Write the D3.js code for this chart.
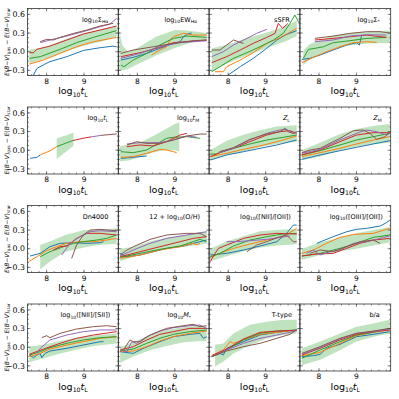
<!DOCTYPE html>
<html>
<head>
<meta charset="utf-8">
<script src="https://cdn.jsdelivr.net/npm/d3@7"></script>
<style>
  body { margin: 0; background: #fff; }
  svg { display: block; font-family: "DejaVu Sans", sans-serif; }
</style>
</head>
<body>
<svg width="399" height="399"></svg>
<script>
// colours of the six bins (blue, orange, green, red, purple, brown)
var binColors = ["#1f77b4", "#ff7f0e", "#2ca02c", "#d62728", "#9467bd", "#8c564b"];

var xDomain = [7.49, 9.915];
var yDomain = [-0.383, 0.695];
var xTicks = [8, 9];
var yTicks = [-0.3, 0.0, 0.3, 0.6];

// panel titles: _{..} = subscript, ~..~ = italic
var panelLabels = [
  "log_{10}Σ_{Hα}", "log_{10}EW_{Hα}", "sSFR", "log_{10}Σ_{*}",
  "log_{10}~t~_{L}", "log_{10}~t~_{M}", "~Z~_{L}", "~Z~_{M}",
  "Dn4000", "12 + log_{10}(O/H)", "log_{10}([NII]/[OII])", "log_{10}([OIII]/[OII])",
  "log_{10}([NII]/[SII])", "log_{10}~M~_{*}", "T-type", "b/a"
];

// each panel: six lines of [log10 tL, value] and a band of [log10 tL, low, high]
var sigmaHaLines = [
  [[7.65,-0.375],[7.74,-0.27],[7.92,-0.21],[8.09,-0.16],[8.54,-0.08],[8.98,0.02],[9.43,0.064],[9.78,0.09],[9.87,0.08]],
  [[7.54,-0.2],[7.92,-0.134],[8.36,-0.027],[8.8,0.08],[9.25,0.16],[9.87,0.23]],
  [[7.54,-0.107],[7.83,-0.08],[8.36,0.038],[8.8,0.145],[9.25,0.23],[9.87,0.34]],
  [[7.54,-0.016],[7.65,-0.016],[7.74,0.038],[8.09,0.091],[8.54,0.188],[8.98,0.284],[9.43,0.348],[9.87,0.413]],
  [[7.83,0.145],[8.09,0.188],[8.54,0.252],[8.98,0.322],[9.43,0.402],[9.69,0.445],[9.87,0.536]],
  [[7.83,0.161],[8.0,0.198],[8.18,0.188],[8.36,0.23],[8.72,0.295],[9.07,0.348],[9.43,0.413],[9.78,0.456]]
];
var sigmaHaBand = [[7.54,-0.19,0.03],[8.0,-0.11,0.08],[8.5,0.0,0.2],[9.0,0.1,0.3],[9.5,0.17,0.37],[9.87,0.24,0.4]];

var ewHaLines = [
  [[7.56,-0.134],[7.89,-0.091],[8.25,-0.027],[8.6,0.054],[8.96,0.134],[9.14,0.16],[9.23,0.24],[9.36,0.29],[9.45,0.3]],
  [[8.38,-0.054],[8.6,0.027],[8.78,0.08],[8.87,0.188],[8.96,0.241],[9.23,0.295],[9.49,0.268],[9.85,0.268]],
  [[7.56,-0.214],[7.64,-0.241],[7.89,-0.134],[8.25,-0.027],[8.6,0.107],[8.96,0.214],[9.32,0.252],[9.85,0.23]],
  [[7.56,-0.08],[8.07,-0.016],[8.6,0.07],[8.96,0.145],[9.32,0.161],[9.85,0.188]],
  [[7.56,-0.107],[8.07,-0.027],[8.6,0.08],[9.14,0.145],[9.85,0.177]],
  [[7.56,-0.027],[7.89,0.027],[8.43,0.08],[8.96,0.134],[9.49,0.177],[9.85,0.188]]
];
var ewHaBand = [[7.52,-0.3,0.33],[7.6,-0.3,0.1],[7.75,-0.28,0.0],[8.0,-0.2,0.06],[8.5,-0.06,0.24],[9.0,0.06,0.35],[9.3,0.12,0.34],[9.6,0.17,0.32],[9.85,0.17,0.3]];

var ssfrLines = [
  [[8.0,-0.375],[8.32,-0.241],[8.67,-0.107],[9.03,0.054],[9.3,0.188],[9.56,0.279],[9.83,0.338]],
  [[7.65,-0.322],[7.87,-0.322],[7.96,-0.241],[8.32,-0.134],[8.67,-0.016],[9.03,0.134],[9.38,0.225],[9.83,0.375]],
  [[7.56,-0.322],[7.78,-0.241],[8.14,-0.107],[8.5,-0.016],[8.85,0.08],[9.21,0.188],[9.47,0.295],[9.65,0.456],[9.78,0.59],[9.9,0.456]],
  [[7.56,-0.177],[7.96,-0.08],[8.32,0.027],[8.67,0.134],[9.03,0.23],[9.25,0.295],[9.34,0.456],[9.45,0.375],[9.6,0.456]],
  [[7.56,-0.08],[7.87,0.0],[8.14,0.107],[8.5,0.214],[8.76,0.295],[9.03,0.359]],
  [[7.56,0.027],[7.78,0.027],[7.96,0.107],[8.14,0.188],[8.27,0.161],[8.41,0.134]]
];
var ssfrBand = [[7.56,-0.32,0.05],[8.0,-0.18,0.12],[8.5,-0.06,0.22],[9.0,0.05,0.3],[9.5,0.16,0.4],[9.83,0.25,0.5]];

var sigmaStarLines = [
  [[7.54,-0.123],[7.76,-0.107],[8.03,-0.054],[8.38,0.027],[8.74,0.107],[9.0,0.145],[9.08,0.107],[9.14,0.268]],
  [[7.54,-0.177],[7.85,-0.091],[8.2,0.0],[8.56,0.08],[8.92,0.145],[9.27,0.161],[9.54,0.15]],
  [[7.58,-0.107],[7.72,0.038],[7.89,0.054],[8.12,0.08],[8.38,0.145],[8.83,0.177],[9.27,0.214],[9.8,0.23]],
  [[7.89,0.188],[8.38,0.214],[8.83,0.241],[9.27,0.268],[9.8,0.23]],
  [[7.89,0.161],[8.38,0.188],[8.83,0.252],[9.27,0.273],[9.8,0.268]],
  [[7.89,0.214],[8.38,0.252],[8.83,0.295],[9.27,0.322],[9.63,0.322],[9.89,0.3]]
];
var sigmaStarBand = [[7.58,-0.22,0.02],[7.75,-0.12,0.12],[8.0,-0.05,0.18],[8.4,0.05,0.26],[8.8,0.1,0.3],[9.3,0.13,0.32],[9.89,0.14,0.34]];

var tLLines = [
  [[7.56,-0.131],[7.74,-0.115],[7.83,-0.077]],
  [[7.83,-0.077],[8.09,-0.01],[8.27,0.057]],
  [[8.27,0.057],[8.5,0.11],[8.7,0.155]],
  [[8.7,0.155],[9.0,0.195],[9.2,0.215]],
  [[9.2,0.215],[9.45,0.238]],
  [[9.45,0.238],[9.87,0.262]]
];
var tLBand = [[8.27,-0.14,0.19],[8.72,0.07,0.28]];

var tMLines = [
  [[7.56,-0.131],[7.89,-0.115],[8.25,-0.093]],
  [[7.56,-0.115],[7.89,-0.104],[8.25,-0.05],[8.6,0.014],[8.78,0.003],[8.96,-0.024],[9.05,-0.04]],
  [[7.56,-0.024],[7.89,-0.04],[8.25,0.003],[8.52,0.1],[8.78,0.191],[8.96,0.207],[9.32,0.218],[9.67,0.191]],
  [[7.72,0.057],[8.07,0.084],[8.43,0.068],[8.78,0.137],[9.14,0.244],[9.32,0.271]],
  [[7.72,0.1],[8.07,0.121],[8.6,0.121],[8.96,0.164],[9.32,0.228],[9.58,0.21]],
  [[7.72,0.084],[7.98,0.137],[8.25,0.11],[8.6,0.11],[8.96,0.164],[9.32,0.228],[9.67,0.26],[9.85,0.26]]
];
var tMBand = [[7.52,-0.18,0.06],[7.8,-0.16,0.1],[8.1,-0.1,0.13],[8.4,-0.04,0.22],[8.7,0.0,0.32],[9.0,0.0,0.42],[9.12,-0.02,0.45]];

var zLLines = [
  [[7.52,-0.158],[7.96,-0.077],[8.41,-0.024],[8.85,0.03],[9.3,0.084],[9.83,0.164]],
  [[7.52,-0.104],[7.96,-0.05],[8.41,0.014],[8.85,0.068],[9.3,0.137],[9.83,0.228]],
  [[7.52,-0.061],[7.7,-0.061],[7.78,-0.024],[8.14,0.03],[8.58,0.1],[9.03,0.164],[9.47,0.207],[9.83,0.244]],
  [[7.52,-0.104],[7.78,-0.04],[8.14,0.03],[8.58,0.137],[9.03,0.244],[9.38,0.298],[9.65,0.314],[9.83,0.271]],
  [[7.78,-0.04],[8.14,0.03],[8.58,0.164],[9.03,0.271],[9.38,0.325],[9.56,0.335],[9.74,0.271],[9.83,0.282]],
  [[7.78,-0.024],[8.14,0.041],[8.58,0.175],[9.03,0.26],[9.38,0.298],[9.52,0.352],[9.6,0.298],[9.74,0.271],[9.83,0.298]]
];
var zLBand = [[7.52,-0.16,0.0],[7.96,-0.08,0.15],[8.41,-0.02,0.25],[8.85,0.05,0.32],[9.3,0.1,0.38],[9.83,0.14,0.4]];

var zMLines = [
  [[7.54,-0.147],[8.03,-0.077],[8.56,-0.008],[9.0,0.046],[9.45,0.1],[9.89,0.153]],
  [[7.54,-0.104],[8.03,-0.04],[8.56,0.03],[9.0,0.1],[9.45,0.164],[9.89,0.218]],
  [[7.54,-0.077],[8.03,-0.008],[8.56,0.084],[9.0,0.164],[9.45,0.218],[9.89,0.271]],
  [[7.54,-0.077],[8.03,0.003],[8.56,0.137],[9.0,0.244],[9.45,0.282],[9.89,0.282]],
  [[7.54,-0.05],[8.03,0.014],[8.56,0.164],[9.0,0.271],[9.27,0.325],[9.54,0.298],[9.8,0.244],[9.89,0.271]],
  [[7.54,-0.04],[7.76,0.003],[8.03,0.03],[8.56,0.191],[8.92,0.314],[9.18,0.325],[9.36,0.271],[9.54,0.175],[9.76,0.218],[9.89,0.282]]
];
var zMBand = [[7.54,-0.16,0.0],[8.03,-0.1,0.12],[8.56,0.0,0.26],[9.0,0.06,0.34],[9.45,0.1,0.39],[9.89,0.12,0.42]];

var dn4000Lines = [
  [[7.56,-0.118],[7.83,-0.075],[8.09,0.032],[8.36,0.086],[8.72,0.096],[9.07,0.086],[9.43,0.096],[9.52,0.113]],
  [[7.52,-0.209],[7.74,-0.129],[8.0,-0.032],[8.27,0.032],[8.54,0.086],[8.89,0.113],[9.25,0.113],[9.6,0.139],[9.87,0.166]],
  [[7.83,-0.129],[8.09,-0.048],[8.45,0.032],[8.72,0.086],[8.98,0.113],[9.34,0.139],[9.6,0.166],[9.87,0.22]],
  [[8.18,-0.021],[8.36,0.032],[8.54,0.043],[8.8,0.166],[9.07,0.247],[9.43,0.247],[9.87,0.22]],
  [[8.4,-0.102],[8.63,0.086],[8.89,0.193],[9.16,0.273],[9.43,0.289],[9.87,0.273]],
  [[8.67,-0.155],[8.8,0.059],[8.98,0.22],[9.16,0.3],[9.43,0.311],[9.87,0.289]]
];
var dn4000Band = [[7.83,-0.33,0.06],[8.1,-0.2,0.12],[8.5,-0.05,0.22],[9.0,0.02,0.3],[9.4,0.06,0.3],[9.87,0.08,0.33]];

var ohLines = [
  [[7.54,-0.075],[7.72,-0.129],[8.07,-0.102],[8.43,-0.048],[8.78,0.005],[9.23,0.043],[9.67,0.113],[9.85,0.139]],
  [[7.54,-0.155],[8.07,-0.102],[8.6,-0.021],[9.14,0.032],[9.49,0.086],[9.58,0.059],[9.67,0.086]],
  [[7.54,-0.139],[8.07,-0.075],[8.6,-0.011],[9.14,0.043],[9.49,0.113],[9.67,0.15],[9.85,0.113]],
  [[7.54,-0.129],[8.07,-0.048],[8.6,0.032],[9.14,0.113],[9.49,0.166],[9.85,0.193]],
  [[7.54,-0.118],[7.89,-0.021],[8.34,0.086],[8.78,0.166],[9.32,0.22],[9.85,0.273]],
  [[7.54,-0.102],[7.72,-0.021],[7.89,0.032],[8.34,0.15],[8.78,0.22],[9.32,0.247],[9.67,0.247],[9.85,0.193]]
];
var ohBand = [[7.54,-0.2,0.0],[7.9,-0.13,0.03],[8.35,-0.05,0.12],[8.8,0.0,0.18],[9.25,0.03,0.22],[9.85,0.08,0.28]];

var n2o2Lines = [
  [[7.52,-0.102],[7.96,-0.075],[8.41,-0.021],[8.85,0.043],[9.3,0.113],[9.56,0.247],[9.74,0.38],[9.83,0.38]],
  [[7.52,-0.139],[7.78,-0.075],[8.14,0.005],[8.58,0.075],[9.03,0.139],[9.47,0.193],[9.83,0.327]],
  [[7.52,-0.129],[7.78,-0.075],[8.14,0.043],[8.58,0.139],[9.03,0.193],[9.47,0.236],[9.83,0.247]],
  [[7.52,-0.209],[7.65,-0.075],[7.74,0.005],[7.96,0.059],[8.41,0.166],[8.85,0.22],[9.3,0.247],[9.83,0.236]],
  [[7.96,0.113],[8.23,0.113],[8.58,0.129],[9.03,0.15],[9.38,0.182],[9.65,0.204]],
  [[8.5,-0.048],[8.76,0.059],[9.03,0.113],[9.38,0.193],[9.56,0.22],[9.74,0.113],[9.83,0.113]]
];
var n2o2Band = [[7.52,-0.2,0.0],[7.96,-0.12,0.12],[8.41,-0.04,0.2],[8.85,0.02,0.28],[9.3,0.05,0.3],[9.83,0.07,0.32]];

var o3o2Lines = [
  [[7.94,0.086],[8.38,0.193],[8.74,0.273],[9.0,0.311],[9.27,0.327],[9.63,0.364],[9.8,0.418],[9.89,0.46]],
  [[7.54,-0.075],[7.85,-0.021],[8.2,0.086],[8.56,0.182],[8.92,0.23],[9.45,0.247],[9.89,0.327]],
  [[7.54,-0.118],[8.03,-0.075],[8.56,0.005],[9.0,0.086],[9.45,0.182],[9.89,0.22]],
  [[7.54,-0.118],[7.94,-0.086],[8.38,-0.075],[8.74,0.005],[9.09,0.086],[9.45,0.139],[9.89,0.166]],
  [[7.67,-0.075],[7.85,-0.021],[8.03,-0.102],[8.29,-0.048],[8.56,-0.021],[8.92,0.086],[9.27,0.113],[9.54,0.15],[9.72,0.182],[9.89,0.204]],
  [[7.76,-0.075],[8.03,-0.021],[8.38,-0.048],[8.74,0.032],[9.09,0.113],[9.45,0.139],[9.63,0.086]]
];
var o3o2Band = [[7.54,-0.18,0.0],[8.03,-0.1,0.1],[8.56,-0.04,0.18],[9.0,0.0,0.25],[9.45,0.05,0.3],[9.89,0.1,0.35]];

var n2s2Lines = [
  [[7.54,-0.125],[7.65,-0.168],[7.74,-0.125],[7.83,-0.1],[7.87,-0.168],[7.96,-0.1],[8.09,-0.061],[8.54,-0.018],[8.98,0.035],[9.43,0.089],[9.52,0.089]],
  [[7.54,-0.152],[7.83,-0.1],[8.09,-0.029],[8.54,0.035],[8.98,0.089],[9.43,0.143],[9.87,0.169]],
  [[7.54,-0.125],[7.83,-0.072],[8.09,-0.007],[8.54,0.062],[8.98,0.116],[9.43,0.153],[9.87,0.169]],
  [[7.54,-0.115],[7.92,-0.029],[8.36,0.062],[8.8,0.143],[9.25,0.196],[9.87,0.25]],
  [[7.74,-0.1],[7.83,-0.018],[8.09,0.116],[8.54,0.196],[8.98,0.25],[9.43,0.277],[9.87,0.277]],
  [[7.87,0.153],[8.0,0.185],[8.09,0.153],[8.36,0.223],[8.8,0.293],[9.25,0.33],[9.6,0.346],[9.87,0.33]]
];
var n2s2Band = [[7.54,-0.24,0.01],[7.9,-0.18,0.04],[8.36,-0.1,0.1],[8.8,-0.04,0.15],[9.25,0.02,0.19],[9.87,0.06,0.22]];

var mStarLines = [
  [[7.54,-0.072],[7.89,-0.1],[8.16,-0.018],[8.6,0.089],[8.96,0.169],[9.4,0.207],[9.67,0.223],[9.76,0.143],[9.85,0.169]],
  [[7.54,-0.072],[7.89,-0.061],[8.25,0.009],[8.6,0.1],[8.96,0.169],[9.4,0.223],[9.85,0.26]],
  [[7.54,-0.061],[7.89,-0.029],[8.25,0.062],[8.6,0.143],[8.96,0.207],[9.4,0.25],[9.85,0.277]],
  [[7.54,-0.045],[7.89,0.009],[8.25,0.116],[8.6,0.207],[8.96,0.25],[9.4,0.303],[9.85,0.303]],
  [[7.54,-0.045],[7.72,-0.072],[7.85,0.089],[7.98,0.062],[8.25,0.169],[8.6,0.26],[8.96,0.314],[9.4,0.346],[9.67,0.357],[9.85,0.303]],
  [[7.63,-0.045],[7.8,0.116],[7.89,0.089],[8.07,0.089],[8.34,0.196],[8.78,0.303],[9.23,0.346],[9.49,0.368],[9.67,0.33],[9.85,0.346]]
];
var mStarBand = [[7.54,-0.25,0.0],[7.89,-0.15,0.08],[8.34,-0.05,0.2],[8.78,0.02,0.28],[9.23,0.08,0.32],[9.67,0.1,0.35],[9.85,0.1,0.32]];

var tTypeLines = [
  [[7.56,-0.152],[7.78,-0.1],[7.87,-0.125],[7.96,-0.018],[8.41,0.089],[8.85,0.196],[9.3,0.239],[9.83,0.277]],
  [[7.56,-0.136],[7.87,-0.045],[8.05,0.089],[8.14,0.062],[8.41,0.116],[8.85,0.207],[9.3,0.239],[9.83,0.277]],
  [[7.56,-0.152],[7.96,-0.045],[8.41,0.116],[8.85,0.223],[9.3,0.26],[9.83,0.277]],
  [[7.56,-0.136],[7.96,-0.029],[8.41,0.132],[8.85,0.239],[9.3,0.26],[9.83,0.271]],
  [[7.56,-0.152],[7.96,-0.045],[8.41,0.062],[8.85,0.143],[9.3,0.196],[9.65,0.239],[9.83,0.277]],
  [[7.56,-0.152],[7.96,-0.061],[8.41,0.009],[8.85,0.062],[9.3,0.143],[9.65,0.207],[9.83,0.277]]
];
var tTypeBand = [[7.65,-0.31,0.04],[7.87,-0.23,0.06],[8.14,-0.1,0.22],[8.58,0.03,0.36],[9.03,0.14,0.41],[9.47,0.2,0.44],[9.83,0.22,0.44]];

var baLines = [
  [[7.54,-0.152],[7.85,-0.136],[8.03,-0.115],[8.2,-0.018],[8.56,0.046],[9.0,0.169],[9.45,0.207],[9.89,0.25]],
  [[7.54,-0.136],[8.03,-0.083],[8.56,0.062],[9.0,0.185],[9.45,0.239],[9.89,0.277]],
  [[7.54,-0.179],[8.03,-0.045],[8.56,0.089],[9.0,0.196],[9.45,0.239],[9.89,0.303]],
  [[7.54,-0.125],[8.03,-0.018],[8.56,0.116],[9.0,0.207],[9.45,0.25],[9.89,0.277]],
  [[7.54,-0.115],[8.03,-0.007],[8.56,0.132],[9.0,0.223],[9.45,0.25],[9.89,0.293]],
  [[7.54,-0.1],[8.03,0.009],[8.56,0.143],[9.0,0.223],[9.45,0.26],[9.89,0.303]]
];
var baBand = [[7.54,-0.29,-0.02],[8.03,-0.2,0.09],[8.56,-0.05,0.22],[9.0,0.09,0.33],[9.45,0.17,0.38],[9.89,0.22,0.44]];

var panelLines = [sigmaHaLines, ewHaLines, ssfrLines, sigmaStarLines, tLLines, tMLines, zLLines, zMLines,
  dn4000Lines, ohLines, n2o2Lines, o3o2Lines, n2s2Lines, mStarLines, tTypeLines, baLines];
var panelBands = [sigmaHaBand, ewHaBand, ssfrBand, sigmaStarBand, tLBand, tMBand, zLBand, zMBand,
  dn4000Band, ohBand, n2o2Band, o3o2Band, n2s2Band, mStarBand, tTypeBand, baBand];

// layout
var svg = d3.select("svg");
var left0 = 27.5, colW = 90.8, top0 = 8.5, rowStep = 98.5, panelH = 67;
var labelPad = [10, 12, 10, 11, 10, 10, 10, 9, 10, 9, 9, 8, 8, 18, 8, 11];

var x = d3.scaleLinear().domain(xDomain).range([0, colW]);
var y = d3.scaleLinear().domain(yDomain).range([panelH, 0]);
var xMinor = d3.range(7.6, 9.9, 0.2);
var yMinor = d3.range(-0.375, 0.69, 0.075);

var line = d3.line().x(function(d) { return x(d[0]); }).y(function(d) { return y(d[1]); });
var area = d3.area()
  .x(function(d) { return x(d[0]); })
  .y0(function(d) { return y(d[1]); })
  .y1(function(d) { return y(d[2]); });

// writes "log_{10}~t~_{L}" style strings as tspans
function richText(sel, str, size, subScale) {
  var parts = str.split(/(_\{[^}]*\}|~[^~]+~)/).filter(function(s) { return s.length; });
  var shift = 0;
  parts.forEach(function(s) {
    var txt = s, fs = size, style = "normal", target = 0;
    if (s[0] === "_") { txt = s.slice(2, -1); fs = size * subScale; target = size * 0.28; }
    else if (s[0] === "~") { txt = s.slice(1, -1); style = "italic"; }
    sel.append("tspan")
      .attr("dy", target - shift)
      .attr("font-size", fs)
      .attr("font-style", style)
      .text(txt);
    shift = target;
  });
}

var fmt = d3.format(".1f");

panelLines.forEach(function(lines, i) {
  var col = i % 4, row = Math.floor(i / 4);
  var g = svg.append("g")
    .attr("transform", "translate(" + (left0 + col * colW) + "," + (top0 + row * rowStep) + ")");

  g.append("clipPath").attr("id", "clip" + i)
    .append("rect").attr("width", colW).attr("height", panelH);

  var plot = g.append("g").attr("clip-path", "url(#clip" + i + ")");

  plot.append("path")
    .datum(panelBands[i])
    .attr("d", area)
    .attr("fill", "#2ca02c")
    .attr("fill-opacity", 0.3)
    .attr("stroke", "none");

  plot.selectAll(".bin")
    .data(lines)
    .enter()
    .append("path")
    .attr("class", "bin")
    .attr("d", line)
    .attr("fill", "none")
    .attr("stroke", function(d, j) { return binColors[j]; })
    .attr("stroke-width", 1)
    .attr("stroke-linejoin", "round");

  // inward ticks on all four sides
  var ticks = g.append("g").attr("stroke", "#444").attr("stroke-width", 0.6);
  [[xTicks, 3], [xMinor, 1.5]].forEach(function(t) {
    t[0].forEach(function(v) {
      ticks.append("line").attr("x1", x(v)).attr("x2", x(v)).attr("y1", panelH).attr("y2", panelH - t[1]);
      ticks.append("line").attr("x1", x(v)).attr("x2", x(v)).attr("y1", 0).attr("y2", t[1]);
    });
  });
  [[yTicks, 3], [yMinor, 1.5]].forEach(function(t) {
    t[0].forEach(function(v) {
      ticks.append("line").attr("y1", y(v)).attr("y2", y(v)).attr("x1", 0).attr("x2", t[1]);
      ticks.append("line").attr("y1", y(v)).attr("y2", y(v)).attr("x1", colW).attr("x2", colW - t[1]);
    });
  });

  g.append("rect")
    .attr("width", colW).attr("height", panelH)
    .attr("fill", "none").attr("stroke", "#333").attr("stroke-width", 0.8);

  // x tick labels
  g.selectAll(".xt")
    .data(xTicks)
    .enter()
    .append("text")
    .attr("x", function(d) { return x(d); })
    .attr("y", panelH + 8)
    .attr("text-anchor", "middle")
    .attr("font-size", 7.5)
    .text(function(d) { return d; });

  // x label
  var xl = g.append("text")
    .attr("x", colW / 2)
    .attr("y", panelH + 18.5)
    .attr("text-anchor", "middle");
  richText(xl, "log_{10}~t~_{L}", 9.5, 0.65);

  // panel title
  var pl = g.append("text")
    .attr("x", colW - labelPad[i])
    .attr("y", 13)
    .attr("text-anchor", "end");
  richText(pl, panelLabels[i], 6.5, 0.7);

  if (col === 0) {
    g.selectAll(".yt")
      .data(yTicks)
      .enter()
      .append("text")
      .attr("x", -2.5)
      .attr("y", function(d) { return y(d) + 2.8; })
      .attr("text-anchor", "end")
      .attr("font-size", 7.8)
      .text(function(d) { return fmt(d); });

    var yl = g.append("text")
      .attr("transform", "translate(" + (-19) + "," + (panelH / 2) + ") rotate(-90)")
      .attr("text-anchor", "middle");
    richText(yl, "~E~(~B~−~V~)_{gas} − ~E~(~B~−~V~)_{star}", 6, 0.7);
  }
});
</script>
</body>
</html>
